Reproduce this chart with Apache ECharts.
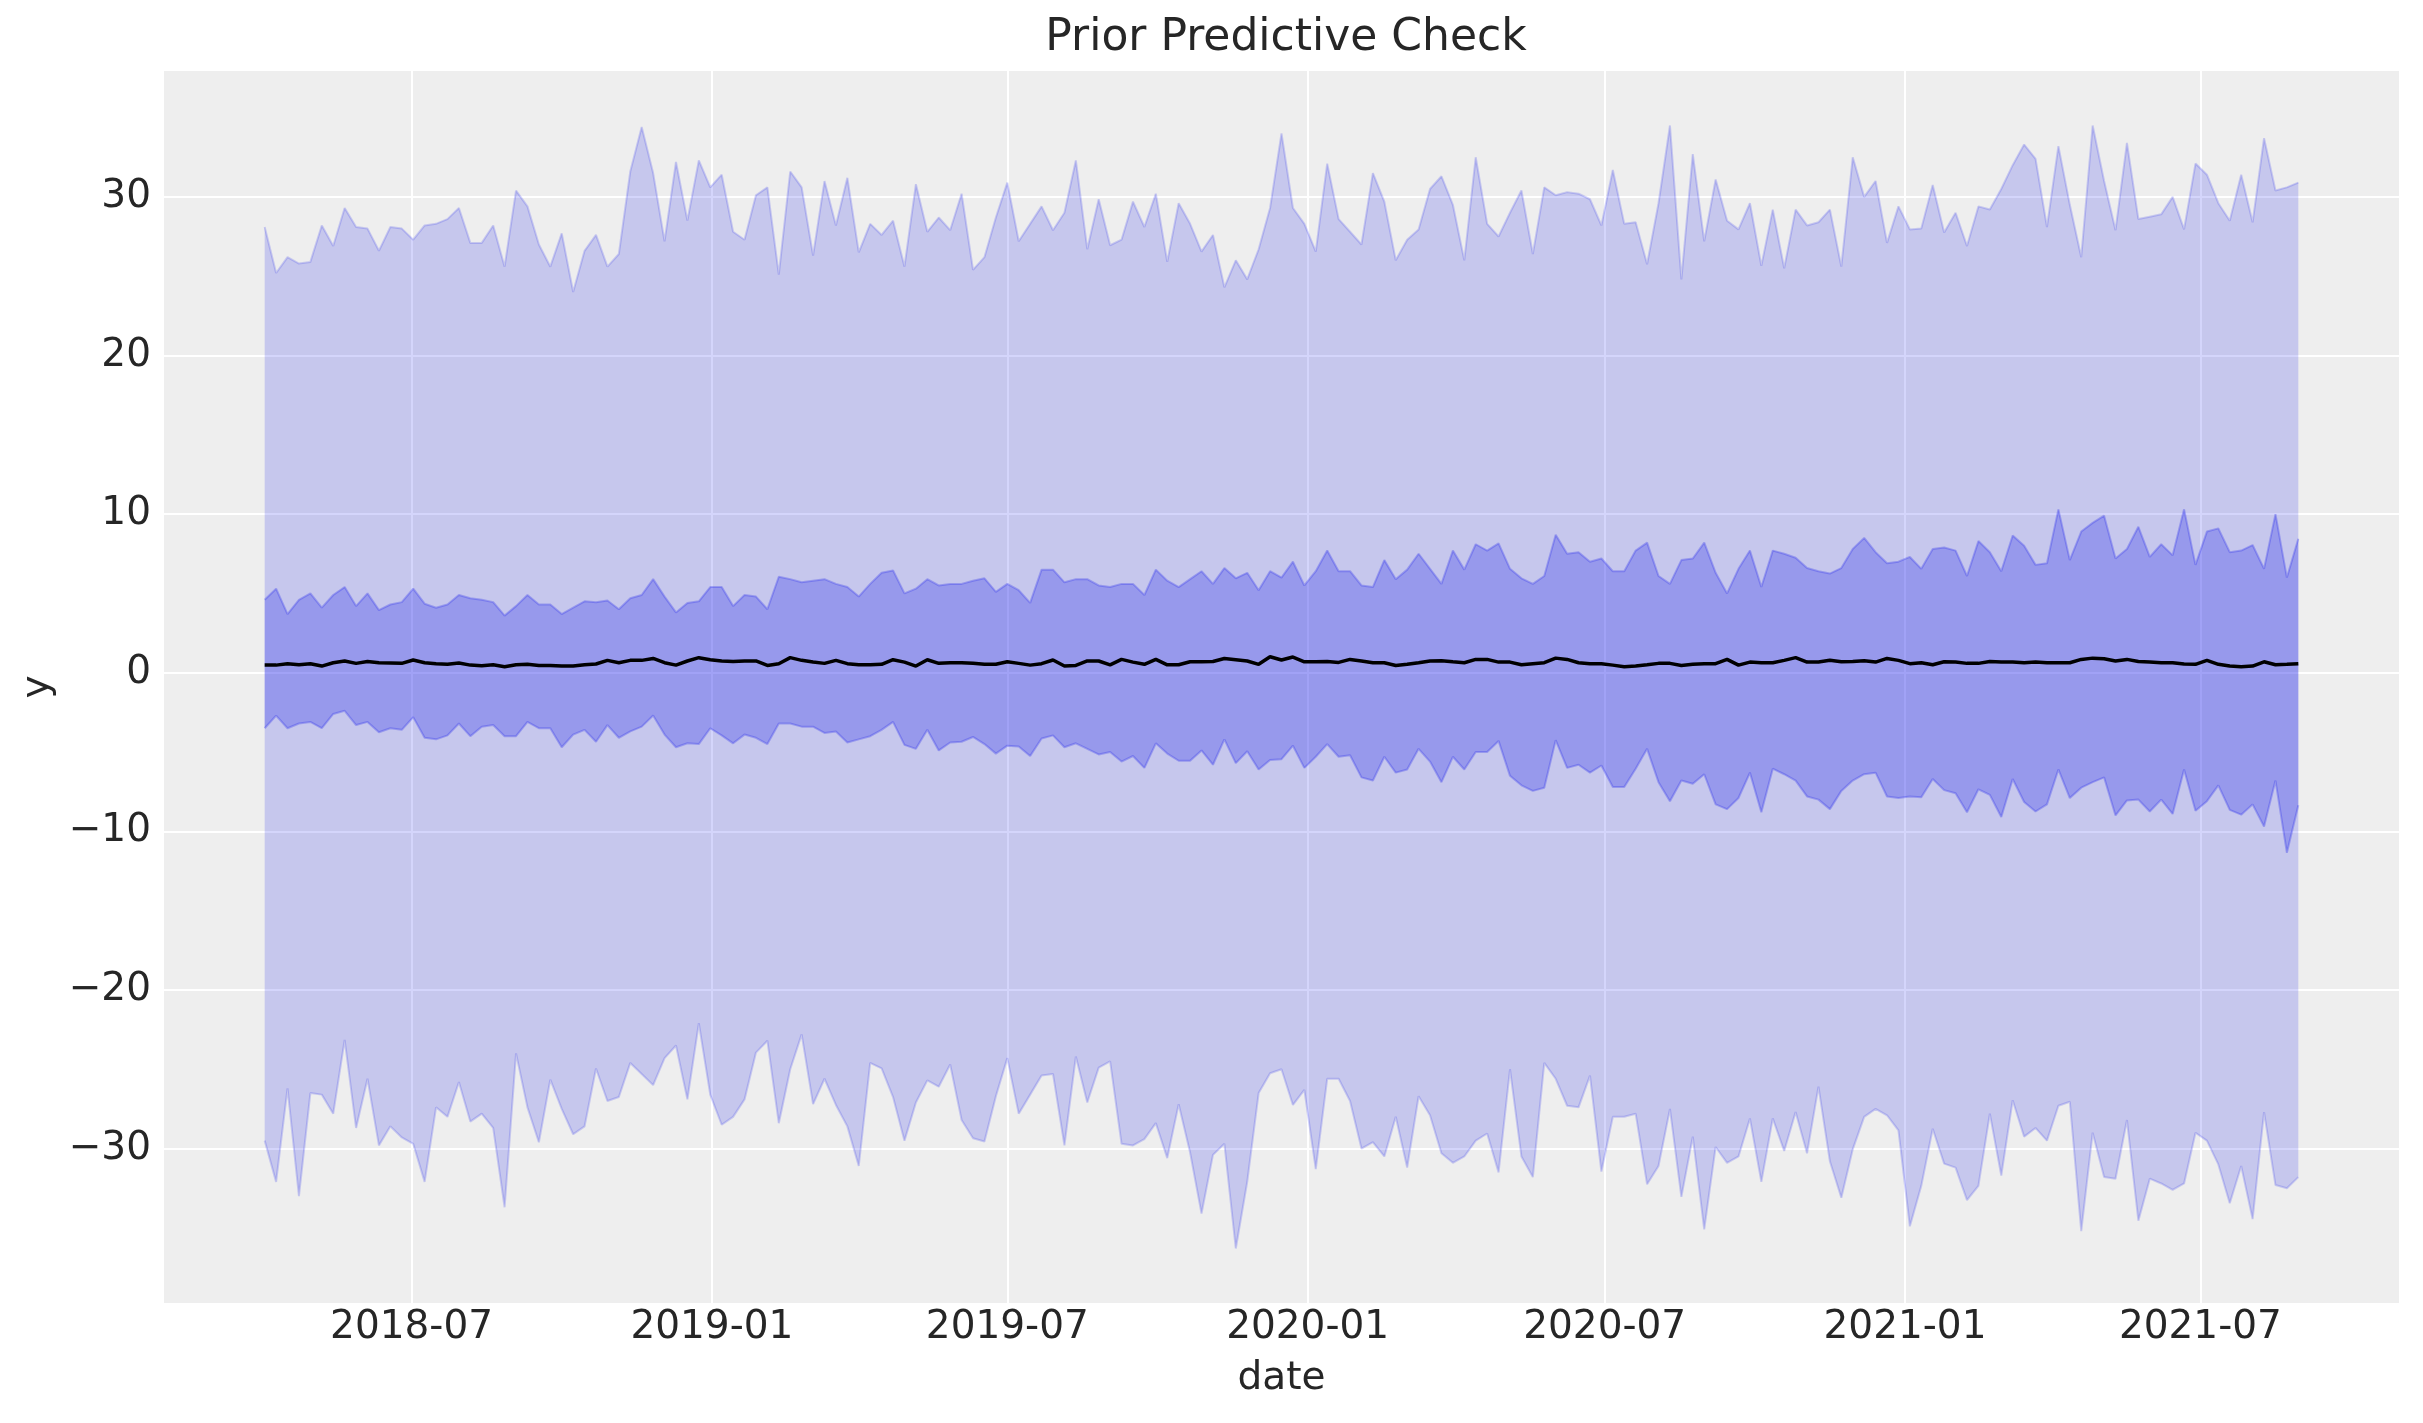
<!DOCTYPE html>
<html>
<head>
<meta charset="utf-8">
<script src="https://cdn.jsdelivr.net/npm/echarts@6/dist/echarts.min.js"></script>
<style>
html,body{margin:0;padding:0;background:#ffffff;}
#chart{width:2423px;height:1423px;}
</style>
</head>
<body>
<div id="chart"></div>
<script>
// ---- data (weekly, starting 2018-04-02) ----
const startDate = '2018-04-02';
const weekCount = 179;

const upperOuter = [
  28.1, 25.2, 26.2, 25.8, 25.9, 28.2, 26.9, 29.3, 28.1, 28.0,
  26.6, 28.1, 28.0, 27.3, 28.2, 28.3, 28.6, 29.3, 27.1, 27.1,
  28.2, 25.6, 30.4, 29.4, 27.0, 25.6, 27.7, 24.0, 26.6, 27.6,
  25.6, 26.4, 31.6, 34.4, 31.5, 27.2, 32.2, 28.5, 32.3, 30.6,
  31.4, 27.8, 27.3, 30.1, 30.6, 25.1, 31.6, 30.6, 26.3, 31.0,
  28.2, 31.2, 26.5, 28.3, 27.6, 28.5, 25.6, 30.8, 27.8, 28.7,
  27.9, 30.2, 25.4, 26.2, 28.7, 30.9, 27.2, 28.3, 29.4, 27.9,
  29.0, 32.3, 26.7, 29.85, 26.95, 27.3, 29.7, 28.1, 30.2, 25.9,
  29.6, 28.3, 26.55, 27.6, 24.3, 26.0, 24.8, 26.7, 29.3, 34.0,
  29.3, 28.3, 26.55, 32.1, 28.6, 27.8, 27.0, 31.5, 29.7, 26.0,
  27.3, 27.95, 30.5, 31.3, 29.5, 26.0, 32.5, 28.3, 27.5, 29.0,
  30.4, 26.4, 30.6, 30.1, 30.3, 30.2, 29.85, 28.2, 31.7, 28.3,
  28.4, 25.75, 29.6, 34.5, 24.8, 32.7, 27.2, 31.1, 28.5, 27.95,
  29.6, 25.65, 29.2, 25.5, 29.2, 28.2, 28.4, 29.2, 25.6, 32.5,
  30.0, 31.0, 27.1, 29.4, 27.95, 28.0, 30.75, 27.75, 29.0, 26.9,
  29.4, 29.2, 30.5, 32.0, 33.3, 32.4, 28.1, 33.2, 29.5, 26.2,
  34.5, 31.0, 27.9, 33.4, 28.6, 28.75, 28.9, 30.0, 27.95, 32.1,
  31.4, 29.6, 28.5, 31.4, 28.4, 33.7, 30.4, 30.6, 30.9
];

const upperInner = [
  4.6, 5.3, 3.7, 4.6, 5.0, 4.1, 4.9, 5.4, 4.2, 5.0,
  3.95, 4.3, 4.45, 5.3, 4.35, 4.1, 4.3, 4.9, 4.7, 4.6,
  4.45, 3.6, 4.2, 4.9, 4.3, 4.3, 3.7, 4.1, 4.5, 4.45,
  4.55, 4.0, 4.7, 4.9, 5.9, 4.8, 3.8, 4.4, 4.5, 5.4,
  5.4, 4.2, 4.9, 4.8, 4.0, 6.05, 5.9, 5.7, 5.8, 5.9,
  5.6, 5.4, 4.8, 5.6, 6.3, 6.45, 5.0, 5.3, 5.9, 5.5,
  5.6, 5.6, 5.8, 5.95, 5.1, 5.6, 5.2, 4.4, 6.5, 6.5,
  5.7, 5.9, 5.9, 5.5, 5.4, 5.6, 5.6, 4.9, 6.5, 5.8,
  5.4, 5.9, 6.4, 5.6, 6.6, 5.95, 6.3, 5.2, 6.4, 6.0,
  7.0, 5.5, 6.4, 7.7, 6.4, 6.4, 5.5, 5.4, 7.1, 5.9,
  6.5, 7.5, 6.55, 5.6, 7.7, 6.5, 8.1, 7.7, 8.15, 6.55,
  5.95, 5.6, 6.1, 8.7, 7.5, 7.6, 7.0, 7.2, 6.4, 6.4,
  7.7, 8.2, 6.1, 5.6, 7.1, 7.2, 8.2, 6.3, 5.0, 6.55,
  7.7, 5.4, 7.7, 7.5, 7.25, 6.6, 6.4, 6.25, 6.6, 7.8,
  8.5, 7.6, 6.9, 7.0, 7.3, 6.55, 7.8, 7.9, 7.7, 6.1,
  8.3, 7.6, 6.4, 8.65, 8.0, 6.8, 6.9, 10.3, 7.1, 8.9,
  9.45, 9.9, 7.2, 7.8, 9.2, 7.3, 8.1, 7.4, 10.3, 6.8,
  8.9, 9.1, 7.6, 7.7, 8.05, 6.55, 10.0, 6.0, 8.45
];

const meanLine = [
  0.48, 0.48, 0.57, 0.50, 0.57, 0.42, 0.63, 0.74, 0.59, 0.71,
  0.63, 0.61, 0.59, 0.80, 0.63, 0.57, 0.53, 0.61, 0.48, 0.44,
  0.50, 0.38, 0.50, 0.53, 0.46, 0.46, 0.42, 0.42, 0.50, 0.55,
  0.78, 0.63, 0.78, 0.78, 0.90, 0.63, 0.48, 0.74, 0.95, 0.82,
  0.74, 0.71, 0.74, 0.74, 0.46, 0.57, 0.95, 0.78, 0.67, 0.59,
  0.78, 0.57, 0.50, 0.50, 0.53, 0.82, 0.67, 0.42, 0.82, 0.59,
  0.63, 0.63, 0.59, 0.53, 0.53, 0.69, 0.59, 0.48, 0.57, 0.80,
  0.42, 0.46, 0.74, 0.74, 0.50, 0.84, 0.67, 0.53, 0.84, 0.50,
  0.50, 0.69, 0.69, 0.71, 0.90, 0.82, 0.74, 0.53, 1.01, 0.80,
  0.99, 0.69, 0.69, 0.71, 0.65, 0.84, 0.74, 0.63, 0.63, 0.46,
  0.53, 0.63, 0.74, 0.76, 0.69, 0.63, 0.84, 0.84, 0.67, 0.67,
  0.50, 0.57, 0.63, 0.92, 0.84, 0.63, 0.57, 0.57, 0.48, 0.38,
  0.42, 0.50, 0.59, 0.59, 0.46, 0.53, 0.57, 0.57, 0.84, 0.48,
  0.67, 0.63, 0.63, 0.78, 0.95, 0.67, 0.67, 0.78, 0.69, 0.71,
  0.76, 0.67, 0.90, 0.78, 0.57, 0.63, 0.50, 0.69, 0.67, 0.59,
  0.59, 0.71, 0.67, 0.67, 0.63, 0.67, 0.63, 0.63, 0.63, 0.84,
  0.92, 0.88, 0.74, 0.84, 0.71, 0.67, 0.63, 0.63, 0.55, 0.53,
  0.78, 0.53, 0.42, 0.38, 0.42, 0.69, 0.50, 0.53, 0.57
];

const lowerInner = [
  -3.5, -2.7, -3.5, -3.2, -3.1, -3.5, -2.6, -2.4, -3.3, -3.1,
  -3.75, -3.5, -3.6, -2.8, -4.1, -4.2, -3.95, -3.2, -4.0, -3.4,
  -3.3, -4.0, -4.0, -3.1, -3.5, -3.5, -4.7, -3.9, -3.6, -4.35,
  -3.3, -4.1, -3.7, -3.4, -2.7, -3.9, -4.7, -4.45, -4.5, -3.5,
  -3.95, -4.45, -3.9, -4.1, -4.5, -3.2, -3.2, -3.4, -3.4, -3.8,
  -3.7, -4.4, -4.2, -4.0, -3.6, -3.1, -4.55, -4.8, -3.6, -4.9,
  -4.4, -4.35, -4.05, -4.5, -5.1, -4.6, -4.65, -5.25, -4.15, -3.95,
  -4.7, -4.45, -4.8, -5.15, -5.0, -5.6, -5.25, -6.0, -4.45, -5.1,
  -5.55, -5.55, -4.9, -5.8, -4.2, -5.7, -4.95, -6.1, -5.5, -5.45,
  -4.6, -6.0, -5.3, -4.5, -5.3, -5.2, -6.6, -6.8, -5.3, -6.3,
  -6.1, -4.8, -5.6, -6.9, -5.3, -6.1, -5.0, -5.0, -4.3, -6.5,
  -7.1, -7.45, -7.25, -4.25, -6.0, -5.8, -6.3, -5.85, -7.2, -7.2,
  -6.05, -4.8, -6.9, -8.1, -6.8, -7.0, -6.4, -8.3, -8.6, -7.9,
  -6.3, -8.8, -6.05, -6.4, -6.8, -7.8, -8.0, -8.6, -7.45, -6.8,
  -6.4, -6.3, -7.8, -7.9, -7.8, -7.85, -6.7, -7.4, -7.6, -8.8,
  -7.35, -7.7, -9.1, -6.7, -8.15, -8.75, -8.3, -6.1, -7.9, -7.25,
  -6.9, -6.6, -9.0, -8.05, -8.0, -8.75, -8.0, -8.9, -6.1, -8.7,
  -8.1, -7.1, -8.65, -8.95, -8.3, -9.7, -6.8, -11.35, -8.35
];

const lowerOuter = [
  -29.5, -32.1, -26.2, -33.0, -26.5, -26.6, -27.8, -23.15, -28.7, -25.6,
  -29.8, -28.6, -29.3, -29.7, -32.1, -27.4, -28.0, -25.8, -28.3, -27.8,
  -28.7, -33.7, -24.0, -27.4, -29.6, -25.65, -27.5, -29.1, -28.6, -24.95,
  -27.0, -26.75, -24.6, -25.3, -26.0, -24.3, -23.5, -26.9, -22.1, -26.6,
  -28.5, -28.0, -26.9, -23.95, -23.2, -28.4, -25.0, -22.8, -27.2, -25.6,
  -27.25, -28.6, -31.1, -24.6, -24.95, -26.75, -29.5, -27.1, -25.7, -26.1,
  -24.7, -28.2, -29.35, -29.55, -26.7, -24.3, -27.8, -26.6, -25.4, -25.3,
  -29.8, -24.2, -27.1, -24.9, -24.5, -29.7, -29.8, -29.4, -28.4, -30.6,
  -27.2, -30.25, -34.1, -30.4, -29.7, -36.3, -32.1, -26.5, -25.25, -25.0,
  -27.25, -26.3, -31.3, -25.6, -25.6, -27.0, -30.0, -29.6, -30.5, -28.0,
  -31.2, -26.7, -27.9, -30.3, -30.9, -30.5, -29.5, -29.05, -31.5, -25.0,
  -30.5, -31.8, -24.6, -25.6, -27.3, -27.4, -25.4, -31.45, -28.0, -28.0,
  -27.8, -32.25, -31.1, -27.5, -33.05, -29.25, -35.1, -29.9, -30.9, -30.5,
  -28.1, -32.1, -28.1, -30.15, -27.7, -30.3, -26.1, -30.8, -33.1, -30.05,
  -28.0, -27.5, -27.9, -28.85, -34.9, -32.35, -28.75, -30.95, -31.2, -33.25,
  -32.35, -27.8, -31.7, -26.95, -29.25, -28.7, -29.5, -27.3, -27.05, -35.2,
  -29.0, -31.8, -31.9, -28.2, -34.55, -31.9, -32.2, -32.6, -32.2, -29.0,
  -29.5, -31.0, -33.45, -31.1, -34.45, -27.7, -32.3, -32.5, -31.8
];

const xTickLabels = ['2018-07', '2019-01', '2019-07', '2020-01', '2020-07', '2021-01', '2021-07'];
const yTickLabels = [-30, -20, -10, 0, 10, 20, 30];

// ---- build ----
const DAY = 86400000;
const t0 = Date.parse(startDate + 'T00:00:00Z');
const dates = [];
for (let i = 0; i < weekCount; i++) dates.push(t0 + i * 7 * DAY);
const span = dates[dates.length - 1] - dates[0];
const xMin = dates[0] - 0.05 * span;
const xMax = dates[dates.length - 1] + 0.05 * span;

const pair = (arr) => arr.map((v, i) => [dates[i], v]);
const diff = (hi, lo) => hi.map((v, i) => [dates[i], +(v - lo[i]).toFixed(3)]);

const BAND = 'rgba(42,46,236,0.2)';
const BAND_IN = 'rgba(42,46,236,0.3)';
const TXT = '#262626';
const FONT = 'DejaVu Sans';

function pad2(n) { return (n < 10 ? '0' : '') + n; }
function fmtDate(v) {
  const d = new Date(v);
  const s = d.getUTCFullYear() + '-' + pad2(d.getUTCMonth() + 1);
  return xTickLabels.indexOf(s) >= 0 ? s : '';
}
function fmtY(v) {
  if (yTickLabels.indexOf(v) < 0) return '';
  return v < 0 ? '\u2212' + (-v) : String(v);
}

const chart = echarts.init(document.getElementById('chart'), null, { renderer: 'canvas' });
chart.setOption({
  animation: false,
  useUTC: true,
  backgroundColor: '#ffffff',
  textStyle: { fontFamily: FONT },
  title: {
    text: 'Prior Predictive Check',
    left: 1281,
    textAlign: 'center',
    top: 12,
    textStyle: { fontFamily: FONT, fontSize: 44, fontWeight: 'normal', color: TXT }
  },
  grid: {
    left: 163, right: 23, top: 70, bottom: 119,
    show: true, backgroundColor: '#eeeeee', borderWidth: 0
  },
  xAxis: {
    type: 'time',
    min: xMin, max: xMax,
    minInterval: 182.5 * DAY, maxInterval: 182.5 * DAY,
    axisLine: { show: false },
    axisTick: { show: false },
    splitLine: { show: true, lineStyle: { color: '#ffffff', width: 2 } },
    axisLabel: {
      formatter: fmtDate, fontSize: 39, color: TXT, fontFamily: FONT, margin: 4,
      hideOverlap: false, showMinLabel: true, showMaxLabel: true
    },
    name: 'date', nameLocation: 'middle', nameGap: 55,
    nameTextStyle: { fontSize: 39, color: TXT, fontFamily: FONT }
  },
  yAxis: {
    type: 'value',
    min: -39.8, max: 38.0,
    minInterval: 10, maxInterval: 10,
    axisLine: { show: false },
    axisTick: { show: false },
    splitLine: { show: true, lineStyle: { color: '#ffffff', width: 2 } },
    axisLabel: { formatter: fmtY, fontSize: 39, color: TXT, fontFamily: FONT, margin: 12 },
    name: 'y', nameLocation: 'middle', nameGap: 100,
    nameTextStyle: { fontSize: 39, color: TXT, fontFamily: FONT }
  },
  series: [
    {
      type: 'line', name: 'outerLow', stack: 'outer', stackStrategy: 'all', data: pair(lowerOuter),
      symbol: 'none', lineStyle: { color: BAND, width: 2 }, silent: true, z: 1
    },
    {
      type: 'line', name: 'outerBand', stack: 'outer', stackStrategy: 'all', data: diff(upperOuter, lowerOuter),
      symbol: 'none', lineStyle: { color: BAND, width: 2 },
      areaStyle: { color: BAND, opacity: 1 }, silent: true, z: 1
    },
    {
      type: 'line', name: 'innerLow', stack: 'inner', stackStrategy: 'all', data: pair(lowerInner),
      symbol: 'none', lineStyle: { color: BAND_IN, width: 2 }, silent: true, z: 2
    },
    {
      type: 'line', name: 'innerBand', stack: 'inner', stackStrategy: 'all', data: diff(upperInner, lowerInner),
      symbol: 'none', lineStyle: { color: BAND_IN, width: 2 },
      areaStyle: { color: BAND_IN, opacity: 1 }, silent: true, z: 2
    },
    {
      type: 'line', name: 'mean', data: pair(meanLine),
      symbol: 'none', lineStyle: { color: '#000000', width: 3.5 }, silent: true, z: 3
    }
  ]
});
</script>
</body>
</html>
